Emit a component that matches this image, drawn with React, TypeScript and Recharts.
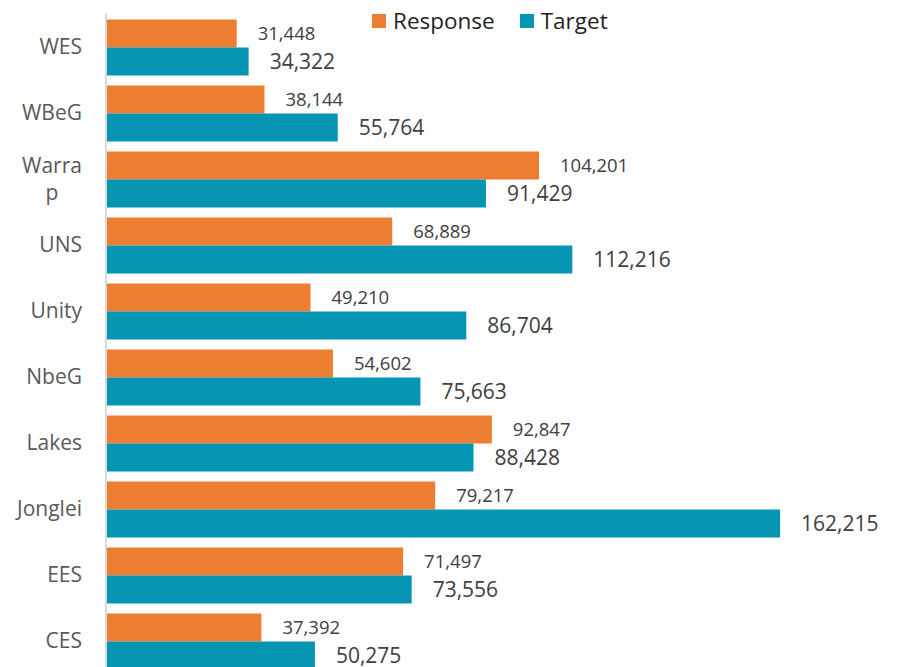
import { BarChart, Bar, XAxis, YAxis, LabelList, Legend } from 'recharts';

const categories = ['WES', 'WBeG', 'Warrap', 'UNS', 'Unity', 'NbeG', 'Lakes', 'Jonglei', 'EES', 'CES'];
const response = [31448, 38144, 104201, 68889, 49210, 54602, 92847, 79217, 71497, 37392];
const target = [34322, 55764, 91429, 112216, 86704, 75663, 88428, 162215, 73556, 50275];
// how Excel wrapped the narrow category labels
const wrappedLabels: Record<string, string[]> = { Warrap: ['Warra', 'p'] };

const ORANGE = '#ed7d31';
const TEAL = '#0594b1';
const FONT = '"Open Sans", sans-serif';

const data = categories.map((name, i) => ({ name, response: response[i], target: target[i] }));

const fmt = (v: number) => v.toLocaleString('en-US');

function CategoryTick(props: any) {
  const { x, y, payload } = props;
  const lines = wrappedLabels[payload.value];
  if (lines) {
    return (
      <text x={x - 30} y={y} textAnchor="middle" fill="#595959" fontSize={21} fontFamily={FONT}>
        {lines.map((l, i) => (
          <tspan key={l} x={x - 30} dy={i === 0 ? -13.5 * (lines.length - 1) + 7 : 27}>
            {l}
          </tspan>
        ))}
      </text>
    );
  }
  return (
    <text x={x} y={y} dy={7} textAnchor="end" fill="#595959" fontSize={21} fontFamily={FONT}>
      {payload.value}
    </text>
  );
}

function LegendContent() {
  const items = [
    { label: 'Response', color: ORANGE },
    { label: 'Target', color: TEAL },
  ];
  return (
    <div style={{ display: 'flex', alignItems: 'center', fontFamily: FONT, fontSize: 22.5, color: '#1f1f1f' }}>
      {items.map((it) => (
        <div key={it.label} style={{ display: 'flex', alignItems: 'center', marginRight: 25 }}>
          <span style={{ width: 14, height: 14, background: it.color, marginRight: 7, display: 'inline-block' }} />
          <span style={{ lineHeight: '26px' }}>{it.label}</span>
        </div>
      ))}
    </div>
  );
}

export default function App() {
  return (
    <div style={{ position: 'absolute', left: 0, top: 0, width: 906, height: 667, overflow: 'hidden', background: '#fff' }}>
      <BarChart
        width={906}
        height={680}
        data={data}
        layout="vertical"
        margin={{ top: 14, right: 52, bottom: 6, left: 0 }}
        barCategoryGap={5.5}
        barGap={0}
      >
        <XAxis type="number" domain={[0, 180000]} hide />
        <YAxis
          type="category"
          dataKey="name"
          width={106}
          axisLine={{ stroke: '#d9d9d9', strokeWidth: 2 }}
          tickLine={false}
          tickSize={0}
          tickMargin={24}
          tick={<CategoryTick />}
          interval={0}
        />
        <Legend
          content={<LegendContent />}
          verticalAlign="top"
          wrapperStyle={{ position: 'absolute', top: 8, left: 372, width: 'auto', height: 0 }}
        />
        <Bar dataKey="response" name="Response" fill={ORANGE} isAnimationActive={false}>
          <LabelList
            dataKey="response"
            position="right"
            offset={21}
            formatter={(v: any) => fmt(Number(v))}
            style={{ fill: '#404040', fontSize: 18.5, fontFamily: FONT }}
          />
        </Bar>
        <Bar dataKey="target" name="Target" fill={TEAL} isAnimationActive={false}>
          <LabelList
            dataKey="target"
            position="right"
            offset={21}
            formatter={(v: any) => fmt(Number(v))}
            style={{ fill: '#404040', fontSize: 21, fontFamily: FONT }}
          />
        </Bar>
      </BarChart>
    </div>
  );
}
